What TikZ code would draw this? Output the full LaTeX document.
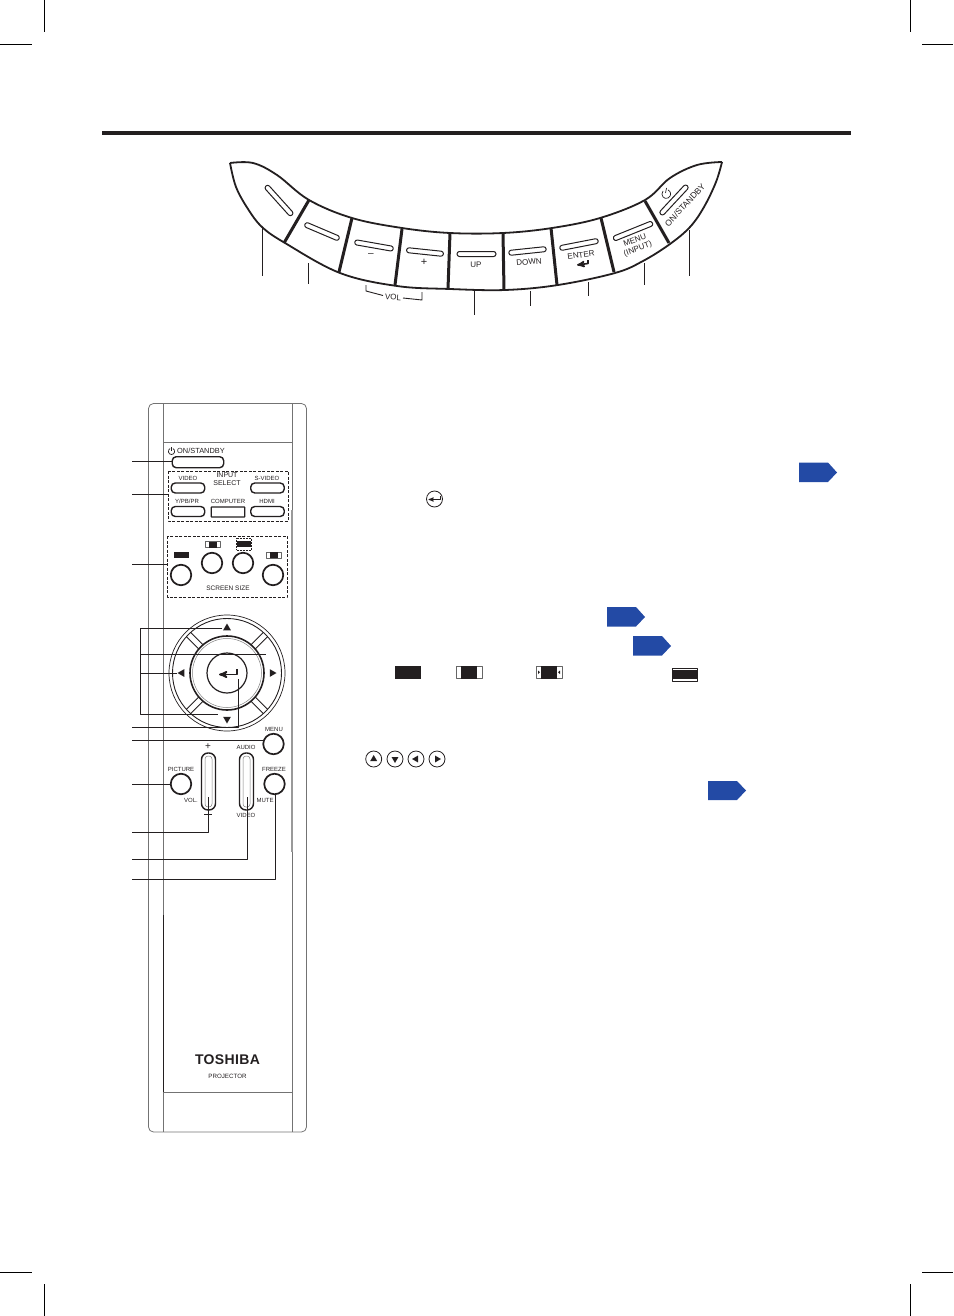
\documentclass[tikz,border=0pt]{standalone}
\usepackage{fontspec}
\setmainfont{Liberation Sans}
\usetikzlibrary{arrows,shapes.geometric,shapes.symbols}

\definecolor{tagblue}{HTML}{234AA5}
\definecolor{inkblack}{HTML}{231F20}

\begin{document}
\begin{tikzpicture}[x=1pt,y=-1pt,>=stealth',line join=round]

  \tikzstyle{crop}=[draw=black,line width=0.6pt]
  \tikzstyle{leader}=[draw=inkblack,line width=0.9pt]
  \tikzstyle{slot}=[draw=inkblack,line width=1pt,inner sep=0pt,fill=white]
  \tikzstyle{rslot}=[slot,rounded corners=2.4pt,minimum height=5pt]
  \tikzstyle{pill}=[slot,minimum width=33.5pt,minimum height=10pt,rounded corners=4pt,line width=1.4pt]
  \tikzstyle{longpill}=[slot,minimum width=14pt,minimum height=57pt,rounded corners=6.5pt,line width=1.4pt]
  \tikzstyle{roundbtn}=[circle,draw=inkblack,line width=1.7pt,inner sep=0pt,minimum size=20.5pt,fill=white]
  \tikzstyle{smalltxt}=[inner sep=0pt,font=\fontsize{6}{6.5}\selectfont,text=inkblack,align=center]
  \tikzstyle{paneltxt}=[inner sep=0pt,font=\fontsize{8}{9}\selectfont,text=inkblack,align=center]
  \tikzstyle{tag}=[draw=none,fill=tagblue]
  \tikzstyle{marker}=[circle,draw=inkblack,line width=0.8pt,inner sep=0pt,minimum size=16pt]
  \tikzstyle{tri}=[regular polygon,regular polygon sides=3,fill=inkblack,inner sep=0pt,minimum size=9pt]
  \tikzstyle{smalltri}=[tri,minimum size=8pt]

  \useasboundingbox (0,0) rectangle (953,1316);

  % crop marks and heading rule
  \draw[crop] (44,0) -- (44,32) (0,44) -- (32,44) (910,0) -- (910,32) (922,44) -- (953,44);
  \draw[crop] (44,1284) -- (44,1316) (0,1272) -- (32,1272) (910,1284) -- (910,1316) (922,1272) -- (953,1272);
  \draw[inkblack,line width=4pt] (102,133.5) -- (851,133.5);

  % top panel
  \draw[inkblack,line width=1.8pt] plot[smooth,tension=0.6] coordinates {(230,163) (253,163) (277,175) (309,200) (352,218) (402,228) (450,233) (503,233) (552,228) (600,218) (645,200) (670,178) (697,165) (722,162)};
  \draw[inkblack,line width=1.8pt] plot[smooth,tension=0.6] coordinates {(722,162) (716,182) (704,207) (690,227) (670,244) (643,261) (615,273) (558,285) (505,290) (450,289) (397,286) (340,273) (285,243) (262,227) (248,209) (236,187) (230,163)};
  \draw[inkblack,line width=3pt] (309,200) -- (284,243) (352,218) -- (339,272) (402,229) -- (395,285) (450,233) -- (448,289)
      (503,233) -- (504,290) (551,228) -- (557,285) (601,218) -- (614,272) (645,201) -- (669,243);

  \node[rslot,minimum width=39pt,rotate=-48] (sl1) at (279,200.5) {};
  \node[rslot,minimum width=37pt,rotate=-23] (sl2) at (322,231.5) {};
  \node[rslot,minimum width=39pt,rotate=-10] (sl3) at (374,245.5) {};
  \node[rslot,minimum width=37pt,rotate=-6] (sl4) at (425,252) {};
  \node[rslot,minimum width=39pt] (sl5) at (476.5,254) {};
  \node[rslot,minimum width=37.5pt,rotate=6] (sl6) at (527.5,251) {};
  \node[rslot,minimum width=39pt,rotate=11] (sl7) at (579,244.5) {};
  \node[rslot,minimum width=42pt,rotate=22] (sl8) at (633,231) {};
  \node[rslot,minimum width=39pt,rotate=47] (sl9) at (674,200) {};

  \node[paneltxt,font=\fontsize{10}{10}\selectfont] (minus) at (371,255) {--};
  \node[paneltxt,font=\fontsize{11}{11}\selectfont] (plus) at (424,262) {+};
  \node[paneltxt] (up) at (476,264.5) {UP};
  \node[paneltxt,rotate=5] (down) at (529,262) {DOWN};
  \node[paneltxt,rotate=8] (enter) at (581,255) {ENTER};
  \node[paneltxt,rotate=20] (menu) at (636.5,245) {MENU\\(INPUT)};
  \node[paneltxt,rotate=47,font=\fontsize{8.5}{9}\selectfont] (onstandby) at (685,205) {ON/STANDBY};
  \node[inner sep=0pt,font=\fontsize{8}{8}\selectfont,text=inkblack,rotate=-5] (vol) at (393,297) {VOL};

  % enter sign and power sign
  \draw[inkblack,line width=1.6pt,->] (588,260) -- (588,263.5) -- (577,265);
  \draw[inkblack,line width=0.7pt] (663,191) .. controls (660,195) and (664,200) .. (668,198) .. controls (672,196) and (671,191) .. (668,190);
  \draw[inkblack,line width=0.7pt] (666.5,188) -- (665.5,193);

  \coordinate (lead1a) at (262,227);  \coordinate (lead1b) at (262,276);
  \coordinate (lead2a) at (308,263);  \coordinate (lead2b) at (308,284);
  \coordinate (lead3a) at (474,290);  \coordinate (lead3b) at (474,315);
  \coordinate (lead4a) at (530,291);  \coordinate (lead4b) at (530,306);
  \coordinate (lead5a) at (588,282);  \coordinate (lead5b) at (588,296);
  \coordinate (lead6a) at (644,263);  \coordinate (lead6b) at (644,285);
  \coordinate (lead7a) at (689,230);  \coordinate (lead7b) at (689,276);
  \draw[leader] (lead1a) -- (lead1b) (lead2a) -- (lead2b) (lead3a) -- (lead3b) (lead4a) -- (lead4b)
      (lead5a) -- (lead5b) (lead6a) -- (lead6b) (lead7a) -- (lead7b);
  \draw[leader] (366,285) -- (366,291) -- (383,295.5) (403,298) -- (422,300) -- (422,292);

  % remote control body
  \draw[black!55,line width=0.8pt,rounded corners=5pt] (148.5,403.5) rectangle (306.5,1132);
  \draw[black!55,line width=0.8pt] (163.5,403.5) -- (163.5,1132) (292,403.5) -- (292,1132);
  \draw[black!55,line width=0.8pt] (163.5,442) -- (292,442) (163.5,1092) -- (292,1092);
  \draw[black!40,line width=1.5pt] (292,510) -- (292,852);
  \draw[inkblack,line width=0.9pt] (163.5,915) -- (163.5,1092);

  % on/standby and input select
  \node[pill,anchor=north west,minimum width=51.5pt,minimum height=11pt] (onbtn) at (171.5,456) {};
  \node[smalltxt,anchor=west,font=\fontsize{7.4}{8}\selectfont] (ontxt) at (177,450.5) {ON/STANDBY};
  \draw[inkblack,line width=0.7pt] (170,448.5) .. controls (167.5,450) and (168,454.5) .. (171.5,454.5) .. controls (175,454.5) and (175.5,450) .. (173,448.5);
  \draw[inkblack,line width=0.7pt] (171.5,447) -- (171.5,451);

  \draw[inkblack,line width=0.7pt,dash pattern=on 3pt off 1.5pt] (168,471) rectangle (288,521);
  \node[pill] (video) at (188,488) {};
  \node[pill] (svideo) at (267.5,488) {};
  \node[pill] (ypbpr) at (188,511.5) {};
  \node[pill,rounded corners=0.5pt] (computer) at (228,512) {};
  \node[pill] (hdmi) at (267.5,511.5) {};
  \node[smalltxt] (videotxt) at (188,478) {VIDEO};
  \node[smalltxt,font=\fontsize{7}{8}\selectfont] (inputtxt) at (227,479.5) {INPUT\\SELECT};
  \node[smalltxt] (svideotxt) at (267,478) {S-VIDEO};
  \node[smalltxt] (ypbprtxt) at (187,501.5) {Y/PB/PR};
  \node[smalltxt] (computertxt) at (228,501.5) {COMPUTER};
  \node[smalltxt] (hdmitxt) at (267,501.5) {HDMI};

  % screen size
  \draw[inkblack,line width=0.7pt,dash pattern=on 3pt off 1.5pt] (167.5,536) rectangle (287,597);
  \node[roundbtn] (size1) at (181,575) {};
  \node[roundbtn] (size2) at (212,563) {};
  \node[roundbtn] (size3) at (243,563) {};
  \node[roundbtn] (size4) at (273,575) {};
  \node[smalltxt,font=\fontsize{6.5}{7}\selectfont] (sizetxt) at (228,588) {SCREEN SIZE};
  \fill[inkblack] (174,552) rectangle (189,558);
  \draw[black!60,line width=0.5pt] (205,541.5) rectangle (220,547.5);
  \fill[inkblack] (208.5,541.5) rectangle (216.5,547.5);
  \draw[inkblack,line width=0.5pt,densely dotted] (236.5,538) rectangle (251,550);
  \fill[inkblack] (236.5,541) rectangle (251,547);
  \draw[black!60,line width=0.5pt] (266.5,552) rectangle (281,558);
  \fill[inkblack] (270,552) rectangle (278,558);

  % direction ring
  \node[circle,inner sep=0pt,minimum size=1pt] (dial) at (227,673) {};
  \draw[inkblack,line width=0.7pt] (dial) circle (58);
  \draw[inkblack,line width=0.9pt] (dial) circle (54.5);
  \draw[inkblack,line width=1.6pt] (dial) circle (37);
  \draw[black!50,line width=0.5pt] (dial) circle (34.5);
  \draw[inkblack,line width=1.2pt] (dial) circle (20);
  \foreach \a in {45,135,225,315}
    \draw[inkblack,line width=0.8pt,rotate around={\a:(dial)}] (264,670) -- (281.5,670) (264,676) -- (281.5,676);
  \node[tri] (tup) at (227,628) {};
  \node[tri,shape border rotate=180] (tdown) at (227,719) {};
  \node[tri,shape border rotate=90] (tleft) at (182,673) {};
  \node[tri,shape border rotate=-90] (tright) at (272,673) {};
  \draw[inkblack,line width=1.8pt,->] (237,669) -- (237,674.5) -- (219,674.5);

  % lower buttons
  \node[roundbtn] (menubtn) at (273.5,744) {};
  \node[roundbtn] (picture) at (181,784) {};
  \node[roundbtn] (freeze) at (274.5,784) {};
  \node[longpill] (volbtn) at (208.5,781.5) {};
  \node[longpill] (audio) at (246.5,781.5) {};
  \draw[black!50,line width=0.5pt,rounded corners=3pt] (205,756) rectangle (212,807);
  \draw[black!50,line width=0.5pt,rounded corners=3pt] (243,756) rectangle (250,807);
  \node[smalltxt] (menutxt) at (274,729) {MENU};
  \node[smalltxt] (picturetxt) at (181,769) {PICTURE};
  \node[smalltxt] (freezetxt) at (274,769) {FREEZE};
  \node[smalltxt] (audiotxt) at (246,747) {AUDIO};
  \node[smalltxt] (videolow) at (246,815) {VIDEO};
  \node[smalltxt] (voltxt) at (191,800) {VOL.};
  \node[smalltxt] (mutetxt) at (265,800) {MUTE};
  \node[smalltxt,font=\fontsize{10}{10}\selectfont] (volplus) at (208,747) {+};
  \draw[inkblack,line width=0.6pt] (204,814.5) -- (212,814.5);

  % call-out lines of the remote
  \coordinate (out1) at (132,461);   \coordinate (out2) at (132,494);   \coordinate (out3) at (132,564);
  \coordinate (box2) at (168,494);   \coordinate (box3) at (167.5,564);
  \coordinate (out4) at (132,727);   \coordinate (out5) at (132,740);   \coordinate (out6) at (132,784);
  \coordinate (out7) at (132,832);   \coordinate (out8) at (132,859);   \coordinate (out9) at (132,879);
  \coordinate (brk) at (140,654);    \coordinate (up1) at (222,628);    \coordinate (ctr1) at (266,654);
  \coordinate (lf1) at (177,673);    \coordinate (dn1) at (218,714);    \coordinate (ent1) at (238,679);
  \coordinate (men1) at (263,740);   \coordinate (vol1) at (208,797);   \coordinate (aud1) at (247,797);
  \coordinate (frz1) at (275.5,794);

  \draw[leader] (up1) -- (140,628) -- (140,714) -- (dn1);
  \draw[leader] (brk) -- (ctr1) (brk |- lf1) -- (lf1);
  \draw[leader] (out1) -- (onbtn.west |- out1);
  \draw[leader] (out2) -- (box2) (out3) -- (box3);
  \draw[leader] (out4) -| (ent1);
  \draw[leader] (out5) -- (men1);
  \draw[leader] (out6) -- (picture.west);
  \draw[leader] (out7) -| (vol1);
  \draw[leader] (out8) -| (aud1);
  \draw[leader] (out9) -| (frz1);

  % maker's mark
  \node[inner sep=0pt,font=\fontsize{14}{14}\bfseries\selectfont\addfontfeature{LetterSpace=2.5},text=inkblack] (maker) at (227.5,1060) {TOSHIBA};
  \node[smalltxt,font=\fontsize{6.2}{7}\selectfont] (product) at (227.5,1076) {PROJECTOR};

  % blue tags
  \fill[tag] (799,462.5) -- (828,462.5) -- (837,472.5) -- (828,482) -- (799,482) -- cycle;
  \fill[tag] (607,607) -- (636,607) -- (645,617) -- (636,626.5) -- (607,626.5) -- cycle;
  \fill[tag] (633,636) -- (662,636) -- (671,646) -- (662,655.5) -- (633,655.5) -- cycle;
  \fill[tag] (708,781) -- (737,781) -- (746,790.5) -- (737,800) -- (708,800) -- cycle;

  % key signs of the text column
  \node[marker] (entersign) at (434.5,499) {};
  \draw[inkblack,line width=0.9pt,->] (440,496) -- (440,499.5) -- (428.5,499.5);
  \fill[inkblack] (395,666) rectangle (421,679);
  \draw[black!60,line width=0.6pt] (456.5,666) rectangle (482,678.5);
  \fill[inkblack] (461,666) rectangle (477,678.5);
  \draw[black!60,line width=0.6pt] (536.5,666) rectangle (562,678.5);
  \fill[inkblack] (541,666) rectangle (557,678.5);
  \fill[inkblack] (540,672.2) -- (538,670.5) -- (538,674) -- cycle (558,672.2) -- (560,670.5) -- (560,674) -- cycle;
  \draw[inkblack,line width=0.6pt] (672.5,668) rectangle (697,681);
  \fill[inkblack] (672.5,670) rectangle (697,679);

  \node[marker] (keyup) at (373.7,759) {};
  \node[marker] (keydown) at (395,759) {};
  \node[marker] (keyleft) at (416,759) {};
  \node[marker] (keyright) at (437,759) {};
  \node[smalltri] (triup) at (keyup) {};
  \node[smalltri,shape border rotate=180] (tridown) at (keydown) {};
  \node[smalltri,shape border rotate=90] (trileft) at (keyleft) {};
  \node[smalltri,shape border rotate=-90] (triright) at (keyright) {};

\end{tikzpicture}
\end{document}
